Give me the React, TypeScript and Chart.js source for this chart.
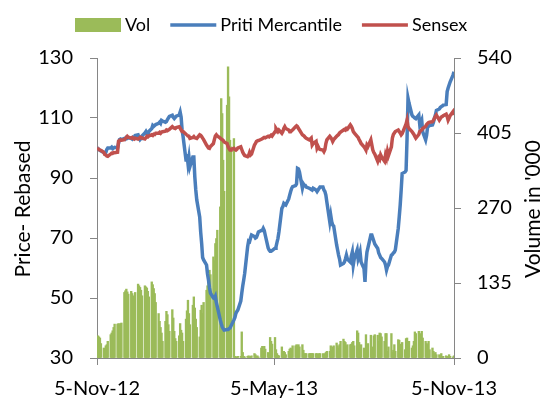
import React, { useEffect, useRef } from 'react';
import { Chart, registerables } from 'chart.js';

Chart.register(...registerables);

// Trading days (Mon-Fri) from 5-Nov-12 to 5-Nov-13, one row = one week
const VOL = [
  38, 40, 38, 36, 26,
  18, 12, 22, 24, 30,
  42, 45, 49, 55, 61,
  61, 62, 60, 62, 63,
  118, 121, 124, 119, 115,
  120, 116, 110, 112, 118,
  133, 130, 127, 122, 112,
  130, 128, 126, 120, 110,
  137, 132, 125, 116, 100,
  80, 66, 55, 45, 30,
  66, 84, 78, 60, 48,
  87, 72, 48, 35, 30,
  40, 62, 50, 45, 30,
  70, 85, 104, 80, 60,
  95, 110, 90, 70, 55,
  38, 86, 95, 80, 100,
  122, 130, 140, 158, 150,
  182, 175, 206, 215, 230,
  272, 467, 440, 356, 300,
  455, 524, 470, 392, 380,
  395, 3, 2, 2, 3,
  3, 47, 10, 3, 2,
  3, 4, 2, 3, 4,
  8, 6, 3, 4, 2,
  18, 21, 12, 21, 16,
  10, 8, 37, 30, 25,
  37, 15, 8, 5, 4,
  20, 12, 12, 10, 6,
  12, 16, 18, 16, 22,
  22, 24, 22, 24, 20,
  24, 14, 8, 8, 8,
  8, 8, 8, 8, 8,
  8, 8, 6, 8, 8,
  8, 6, 8, 10, 12,
  12, 22, 14, 20, 22,
  27, 22, 18, 24, 30,
  34, 30, 28, 22, 24,
  24, 25, 28, 30, 22,
  49, 45, 28, 22, 24,
  18, 12, 42, 20, 26,
  41, 14, 20, 40, 42,
  41, 30, 45, 44, 38,
  30, 44, 44, 12, 20,
  44, 10, 14, 24, 12,
  33, 32, 25, 15, 28,
  15, 35, 36, 28, 30,
  18, 22, 30, 47, 44,
  48, 44, 42, 48, 36,
  30, 26, 24, 30, 15,
  18, 12, 8, 10, 6,
  6, 4, 8, 3, 3,
  4, 2, 3, 6, 3,
  2, 4,
];

const PRITI = [
  100, 99.8, 99.5, 99.2, 99,
  98.5, 98.2, 98.5, 99.5, 100,
  100, 100.3, 99.8, 100, 100.2,
  100, 101.5, 102.8, 103, 102.8,
  103.2, 103, 103.5, 103.2, 103.4,
  103.2, 103, 103.5, 103.3, 104.2,
  104.4, 103.5, 102.8, 103.2, 104,
  105, 105.5, 104.8, 104.4, 105.5,
  106.5, 107.5, 107.2, 107.5, 107.8,
  108.2, 108.6, 108.2, 109.2, 109,
  108.6, 108.8, 109.5, 110, 110.5,
  110.9, 110.2, 109.8, 110.2, 110.6,
  111, 112, 110.3, 106, 103.8,
  96, 98, 94.9, 97, 93.8,
  97, 97, 90.4, 86, 82.7,
  77, 72, 68.2, 63.5, 62.7,
  61, 58, 56, 53.5, 51.6,
  50, 49.8, 50.5, 48.5, 47.1,
  42.7, 41.5, 40.4, 39.8, 39.3,
  39.5, 39.5, 39.8, 40, 40,
  42.7, 43.5, 44.9, 45.5, 46,
  49, 51.6, 54, 56, 58.2,
  67.1, 69, 68.8, 70, 71,
  70.5, 70, 70.2, 71, 72,
  72.5, 72.5, 73.2, 72.5, 71,
  66.7, 66, 65.6, 65.6, 65.8,
  66.6, 67, 68.5, 69.9, 72,
  79.9, 80.5, 81.5, 81.2, 81,
  83, 84.3, 85.5, 86.5, 87.1,
  87.5, 88, 93.2, 93, 92,
  86.6, 88, 87.5, 87.5, 87,
  86.6, 86.4, 86.2, 86, 86.6,
  86, 85.5, 86, 86.5, 87,
  87, 86, 85.5, 84.3, 82,
  75.4, 77.5, 75.4, 74.3, 74,
  67.7, 66, 64.3, 63, 61,
  61.5, 62, 63, 64.3, 63,
  62, 64, 65.3, 61, 63,
  66, 63, 64, 65.3, 62,
  59.8, 55.4, 62, 65.3, 66.7,
  71, 71, 70, 69, 68,
  66.5, 65, 64.3, 63.5, 63.2,
  62, 61, 59.3, 60.5, 61,
  64.3, 64.5, 65, 65.3, 66,
  73.2, 77, 81, 86, 91.5,
  92, 92.5, 103.2, 116.6, 115,
  111, 110.5, 110.3, 110, 109.8,
  111, 107.7, 108.5, 109.3, 105.4,
  102.7, 104.3, 107, 107.2, 107.5,
  107.7, 108.6, 110, 111, 112.5,
  113, 113.5, 113.8, 114, 114.3,
  114.5, 118.8, 120, 121, 122,
  124.3, 125.4,
];

const SENSEX = [
  100, 99.8, 99.5, 99.3, 99.2,
  98.5, 97.8, 97.7, 97.3, 97.2,
  98, 98.3, 98.2, 98.5, 98.4,
  98.6, 102.2, 102.5, 102.7, 102.6,
  102.8, 103.2, 103.5, 103.9, 103.6,
  103.3, 103.5, 103.2, 103, 103.3,
  103, 103.2, 103.5, 103.3, 103.4,
  103, 103.4, 103.9, 103.7, 104,
  104.4, 104.2, 104.6, 104.5, 104.9,
  104.9, 105.2, 104.9, 105.3, 105.4,
  105.6, 106, 105.8, 106, 106.2,
  107.1, 106.8, 106.6, 106.5, 106.8,
  107.1, 106.6, 106, 105.5, 105.5,
  104.6, 104.4, 104, 103.9, 103.2,
  103.5, 103.8, 103.4, 103.3, 103.2,
  104.4, 104.2, 103.8, 103.3, 102.8,
  101, 100.5, 100, 99.9, 100.5,
  101.5, 102.8, 104, 104.4, 104,
  103.3, 103, 102.8, 102.5, 102,
  101.5, 100.5, 99.8, 99.3, 99.5,
  99.9, 99.5, 99.3, 99.6, 100,
  100.4, 99.5, 98.6, 98, 97.5,
  97.1, 97.5, 98.5, 97.7, 98,
  101, 101.5, 102.2, 102.4, 102.5,
  102.9, 103.1, 103.3, 103.5, 103.4,
  103.9, 103.7, 104, 104.3, 104,
  105.4, 106.5, 106, 105.5, 106,
  104.9, 105.5, 106.5, 107.1, 106.5,
  106, 105.4, 105.4, 105.8, 106,
  107.1, 107.4, 107.1, 106.5, 106,
  104.4, 104.2, 103.9, 103.5, 103.2,
  102.7, 103, 103.3, 101, 101.5,
  102.2, 99.9, 100.5, 99.8, 99.5,
  99.3, 98.8, 99.5, 101.5, 102.7,
  103.9, 103.5, 103, 102.2, 102.8,
  103.9, 104.2, 104.5, 105, 105.3,
  106, 106.2, 106, 106.5, 106.3,
  107.7, 107.2, 106.5, 105.5, 105,
  103.9, 103.5, 102.8, 102.2, 101.5,
  100.4, 99.9, 99.3, 101, 100.5,
  102.7, 101, 99.3, 98.5, 98,
  95.6, 96.7, 96.2, 97.7, 97,
  95.6, 97.7, 96.7, 98.8, 97.5,
  100.4, 103.3, 104.5, 105, 105.5,
  106, 105.5, 105, 104.4, 104.8,
  107.2, 108, 109.3, 107.2, 106.5,
  105.5, 105, 104.5, 103.9, 103.3,
  104.5, 105.5, 105.8, 106, 106.5,
  107.2, 107.8, 108.2, 108.5, 108.6,
  108.8, 109.2, 109.9, 110.5, 111,
  109.3, 109.8, 110.3, 110.5, 110.8,
  111.3, 110.5, 109.3, 110, 110.8,
  112.1, 111,
];

// x axis: days since 5-Nov-12
const X_TICK_DAYS = [0, 181, 365];
const X_TICK_LABELS = ['5-Nov-12', '5-May-13', '5-Nov-13'];
const LEFT_MIN = 30, LEFT_MAX = 130, LEFT_STEP = 20;
const RIGHT_MIN = 0, RIGHT_MAX = 540, RIGHT_STEP = 135;

const LEFT_TITLE = 'Price- Rebased';
const RIGHT_TITLE = "Volume in '000";

// weekday calendar: Monday 5-Nov-12 onwards, skipping weekends
const DAY_OF = (i: number) => Math.floor(i / 5) * 7 + (i % 5);

const GREEN = '#9BBB59';
const BLUE = '#4A7EBB';
const RED = '#C0504D';
const AXIS = '#868686';
const FONT = 'Lato';

const titlesPlugin = {
  id: 'sideTitles',
  afterDraw(chart: any) {
    const { ctx, chartArea } = chart;
    const cy = (chartArea.top + chartArea.bottom) / 2 + 1;
    ctx.save();
    ctx.font = `21px ${FONT}`;
    ctx.fillStyle = '#000';
    ctx.textAlign = 'center';
    ctx.textBaseline = 'middle';
    ctx.save();
    ctx.translate(23, cy);
    ctx.rotate(-Math.PI / 2);
    ctx.fillText(LEFT_TITLE, 0, 0);
    ctx.restore();
    ctx.save();
    ctx.translate(533, cy);
    ctx.rotate(-Math.PI / 2);
    ctx.fillText(RIGHT_TITLE, 0, 0);
    ctx.restore();
    ctx.restore();
  },
};

// legend drawn from the datasets: swatch 46px, small gap, then label
const legendPlugin = {
  id: 'topLegend',
  afterDraw(chart: any) {
    const { ctx } = chart;
    const datasets = chart.data.datasets;
    const swatch = 46, gap = 4, sep = 20, cy = 25;
    ctx.save();
    ctx.font = `18px ${FONT}`;
    const widths = datasets.map((d: any) => swatch + gap + ctx.measureText(d.label).width);
    const total = widths.reduce((a: number, b: number) => a + b, 0) + sep * (datasets.length - 1);
    let x = Math.round(chart.width / 2 - total / 2);
    datasets.forEach((d: any, i: number) => {
      if (d.type === 'bar') {
        ctx.fillStyle = d.backgroundColor;
        ctx.fillRect(x, cy - 7, swatch, 14);
      } else {
        ctx.strokeStyle = d.borderColor;
        ctx.lineWidth = 3.5;
        ctx.beginPath();
        ctx.moveTo(x, cy);
        ctx.lineTo(x + swatch, cy);
        ctx.stroke();
      }
      ctx.fillStyle = '#000';
      ctx.textAlign = 'left';
      ctx.textBaseline = 'middle';
      ctx.fillText(d.label, x + swatch + gap, cy);
      x += widths[i] + sep;
    });
    ctx.restore();
  },
};

export default function App() {
  const ref = useRef<HTMLCanvasElement>(null);

  useEffect(() => {
    const canvas = ref.current;
    if (!canvas) return;
    const volData = VOL.map((v, i) => ({ x: DAY_OF(i), y: v }));
    const pritiData = PRITI.map((v, i) => ({ x: DAY_OF(i), y: v }));
    const sensexData = SENSEX.map((v, i) => ({ x: DAY_OF(i), y: v }));

    const tickFont = { family: FONT, size: 20 };

    const chart = new Chart(canvas, {
      type: 'line',
      data: {
        datasets: [
          {
            type: 'bar',
            label: 'Vol',
            data: volData,
            yAxisID: 'y1',
            backgroundColor: GREEN,
            borderColor: GREEN,
            borderWidth: 0,
            barThickness: 1.7,
            order: 3,
          } as any,
          {
            type: 'line',
            label: 'Priti Mercantile',
            data: pritiData,
            yAxisID: 'y',
            borderColor: BLUE,
            backgroundColor: BLUE,
            borderWidth: 3.5,
            pointRadius: 0,
            tension: 0,
            order: 2,
          },
          {
            type: 'line',
            label: 'Sensex',
            data: sensexData,
            yAxisID: 'y',
            borderColor: RED,
            backgroundColor: RED,
            borderWidth: 3.5,
            pointRadius: 0,
            tension: 0,
            order: 1,
          },
        ],
      },
      options: {
        responsive: false,
        animation: false,
        devicePixelRatio: 1,
        events: [],
        layout: { padding: { top: 58, left: 0, right: 0, bottom: 0 } },
        plugins: {
          tooltip: { enabled: false },
          legend: { display: false },
        },
        scales: {
          x: {
            type: 'linear',
            min: X_TICK_DAYS[0],
            max: X_TICK_DAYS[X_TICK_DAYS.length - 1],
            offset: false,
            afterBuildTicks: (axis: any) => {
              axis.ticks = X_TICK_DAYS.map((v) => ({ value: v }));
            },
            afterFit: (axis: any) => {
              axis.height = 40;
            },
            ticks: {
              autoSkip: false,
              maxRotation: 0,
              color: '#000',
              font: tickFont,
              padding: 12,
              callback: (_v: any, i: number) => X_TICK_LABELS[i],
            },
            grid: { drawOnChartArea: false, drawTicks: true, tickLength: 7, color: AXIS, offset: false },
            border: { color: AXIS, width: 1 },
          },
          y: {
            type: 'linear',
            position: 'left',
            min: LEFT_MIN,
            max: LEFT_MAX,
            afterFit: (axis: any) => {
              axis.width = 97;
            },
            ticks: { stepSize: LEFT_STEP, color: '#000', font: tickFont, padding: 17 },
            grid: { drawOnChartArea: false, drawTicks: true, tickLength: 7, color: AXIS },
            border: { color: AXIS, width: 1 },
          },
          y1: {
            type: 'linear',
            position: 'right',
            min: RIGHT_MIN,
            max: RIGHT_MAX,
            afterFit: (axis: any) => {
              axis.width = 88;
            },
            ticks: { stepSize: RIGHT_STEP, color: '#000', font: tickFont, padding: 16 },
            grid: { drawOnChartArea: false, drawTicks: true, tickLength: 7, color: AXIS },
            border: { color: AXIS, width: 1 },
          },
        },
      } as any,
      plugins: [titlesPlugin, legendPlugin],
    });
    return () => chart.destroy();
  }, []);

  return (
    <div style={{ position: 'absolute', left: 0, top: 0, width: 542, height: 398, background: '#fff' }}>
      <canvas ref={ref} width={542} height={398} style={{ display: 'block' }} />
    </div>
  );
}
